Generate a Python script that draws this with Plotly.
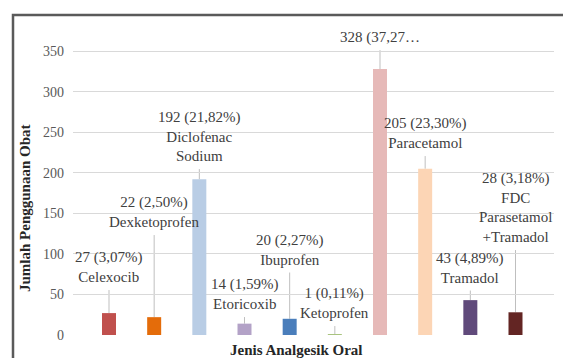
import plotly.graph_objects as go

# Oral analgesic usage counts
categories = ["Celexocib", "Dexketoprofen", "Diclofenac Sodium", "Etoricoxib", "Ibuprofen",
              "Ketoprofen", "Asam Mefenamat", "Paracetamol", "Tramadol", "FDC Parasetamol +Tramadol"]
counts = [27, 22, 192, 14, 20, 1, 328, 205, 43, 28]
percent_labels = ["3,07%", "2,50%", "21,82%", "1,59%", "2,27%", "0,11%", "37,27…", "23,30%", "4,89%", "3,18%"]
name_lines = [["Celexocib"], ["Dexketoprofen"], ["Diclofenac", "Sodium"], ["Etoricoxib"], ["Ibuprofen"],
              ["Ketoprofen"], [], ["Paracetamol"], ["Tramadol"], ["FDC", "Parasetamol", "+Tramadol"]]
bar_colors = ["#C0504D", "#E46C0A", "#B9CDE5", "#B3A2C7", "#4A7EBB",
              "#A9C47F", "#E6B9B8", "#FCD5B5", "#604A7B", "#632523"]
y_ticks = [0, 50, 100, 150, 200, 250, 300, 350]

# Callout label centres (value units) chosen to keep labels clear of each other
label_centres = [83.8, 151.6, 245.3, 50.5, 105.4, 39.4, 367.3, 249.0, 83.2, 157.8]

W, H = 563, 358
M_L, M_R, M_T, M_B = 73, 9, 39, 23
Y_MAX = 365
PW, PH = W - M_L - M_R, H - M_T - M_B
px_per_unit = PH / Y_MAX

SERIF = "Liberation Serif, Times New Roman, serif"
TEXT_COL = "#404040"


def val_to_paper(v):
    return v / Y_MAX


def px_to_paper_x(px):
    return (px - M_L) / PW


def px_to_paper_y(py):
    return ((H - M_B) - py) / PH


fig = go.Figure(go.Bar(
    x=categories, y=counts, marker=dict(color=bar_colors, line=dict(width=0)),
    width=0.31, hoverinfo="x+y",
))

annotations = []
shapes = []
for cat, val, pct, lines, yc in zip(categories, counts, percent_labels, name_lines, label_centres):
    head = f"{val} ({pct})" if not pct.endswith("…") else f"{val} ({pct}"
    all_lines = [head] + lines
    annotations.append(dict(
        x=cat, y=val_to_paper(yc), xref="x", yref="paper", text="<br>".join(all_lines), showarrow=False,
        font=dict(family=SERIF, size=15, color=TEXT_COL), align="center",
        xanchor="center", yanchor="middle",
    ))
    # leader line from the bar top up to the label block
    top = yc - (len(all_lines) * 10 + 3) / px_per_unit
    shapes.append(dict(type="line", xref="x", yref="y", x0=cat, x1=cat, y0=val, y1=top,
                       line=dict(color="#BFBFBF", width=1), layer="below"))

# axis titles
annotations.append(dict(x=px_to_paper_x(296), y=px_to_paper_y(350),
                        xref="paper", yref="paper", text="<b>Jenis Analgesik Oral</b>", showarrow=False,
                        font=dict(family=SERIF, size=15, color="#262626"), xanchor="center", yanchor="middle"))
annotations.append(dict(x=px_to_paper_x(25), y=px_to_paper_y(208),
                        xref="paper", yref="paper", text="<b>Jumlah Penggunaan Obat</b>", showarrow=False,
                        textangle=-90, font=dict(family=SERIF, size=15, color="#262626"),
                        xanchor="center", yanchor="middle"))

# chart-area frame as a single path: left edge up, then along the top
frame_path = (f"M {px_to_paper_x(13)},{px_to_paper_y(400)} "
              f"L {px_to_paper_x(13)},{px_to_paper_y(15)} "
              f"L {px_to_paper_x(600)},{px_to_paper_y(15)}")
shapes.append(dict(type="path", xref="paper", yref="paper", path=frame_path,
                   line=dict(width=2.5, color="#5a5a5a"), layer="above"))

fig.update_layout(
    width=W, height=H, margin=dict(l=M_L, r=M_R, t=M_T, b=M_B),
    paper_bgcolor="white", plot_bgcolor="white", showlegend=False,
    bargap=0.69, annotations=annotations, shapes=shapes,
    xaxis=dict(showticklabels=False, showgrid=False, showline=False, zeroline=False, ticks=""),
    yaxis=dict(range=[0, Y_MAX], tickvals=y_ticks, showgrid=True, gridcolor="#D9D9D9", gridwidth=1,
               zeroline=False, showline=False, ticks="", ticklabelstandoff=8,
               tickfont=dict(family=SERIF, size=14, color="#595959")),
)

fig.write_html("out.html", config={"displayModeBar": False})
